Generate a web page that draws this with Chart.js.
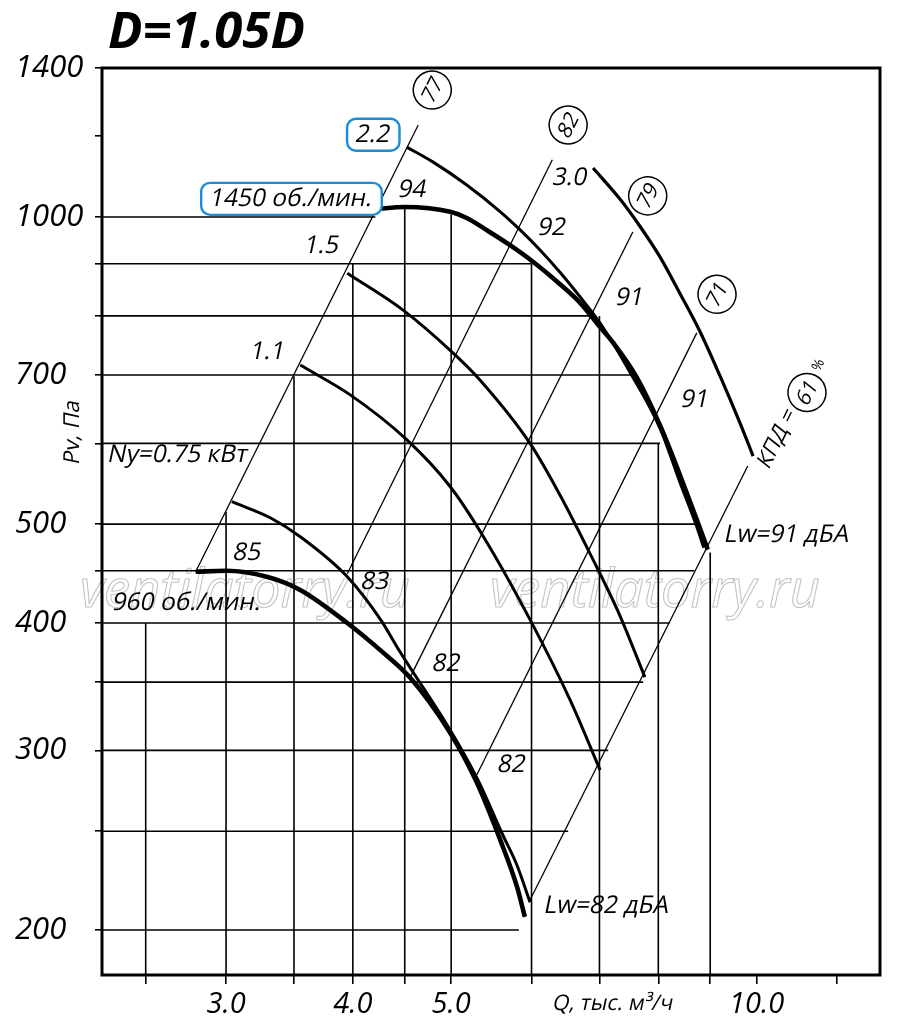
<!DOCTYPE html>
<html>
<head>
<meta charset="utf-8">
<script src="https://cdn.jsdelivr.net/npm/chart.js@4.4.1/dist/chart.umd.min.js"></script>
<style>
html,body{margin:0;padding:0;background:#fff;}
canvas{display:block;}
</style>
</head>
<body>
<canvas id="chart" width="900" height="1024"></canvas>
<script>
// axis ranges and ticks
const Q_MIN=2.264, Q_MAX=13.23, P_MIN=180.7, P_MAX=1400;
const xTickValues=[2.5,3,3.5,4,4.5,5,6,7,8,9,10,12];
const xTickLabels={3:'3.0',4:'4.0',5:'5.0',10:'10.0'};
const yTickValues=[1400,1200,1000,900,800,700,600,500,450,400,350,300,250,200];
const yTickLabels={1400:'1400',1000:'1000',700:'700',500:'500',400:'400',300:'300',200:'200'};

// grid segments: horizontal (P, Q where it stops), vertical (Q, P where it stops)
const hGridP=[1000,900,800,700,600,500,450,400,350,300,250,200];
const hGridEnd=[4.21,6.0,6.9,7.55,8.03,8.70,8.68,8.21,7.73,7.14,6.52,5.83];
const vGridQ=[2.5,3,3.5,4,4.5,5,6,7,8,9];
const vGridTop=[400,514,698,900,1020,1006,900,800,600,469];

// fan curves Pv(Q)
const q960=[2.80,3.00,3.29,3.55,3.95,4.26,4.55,4.99,5.30,5.59,5.81,5.91];
const p960=[449,450,444,431,400,376,354,312,279,245,220,206];
const q075=[3.04,3.32,3.55,3.95,4.26,4.45,4.99,5.31,5.62,5.80,5.98];
const p075=[526,507,486,444,403,375,314,281,248,232,213];
const q110=[3.55,3.98,4.52,4.99,5.38,5.98,6.55,7.01];
const p110=[716,669,605,544,486,403,336,287];
const q150=[3.95,4.48,5.02,5.34,5.98,6.40,6.85,7.33,7.76];
const p150=[881,811,736,692,600,534,468,407,354];
const q220=[4.52,4.80,5.18,5.59,5.85,6.12,6.40,6.70,7.01,7.50,8.03,8.40,8.73,8.87];
const p220=[1171,1132,1075,1012,971,928,883,835,787,705,621,550,497,474];
const q1450=[4.21,4.50,4.99,5.18,5.42,5.71,6.02,6.36,6.70,7.01,7.22,7.62,8.03,8.40,8.73,8.95];
const p1450=[1018,1023,1012,998,971,939,904,864,824,780,753,696,625,559,505,472];
const q300=[6.90,7.33,7.67,8.03,8.40,8.80,9.20,9.63,9.92];
const p300=[1117,1042,980,914,842,771,699,628,583];

// efficiency lines (КПД, %)
const effNames=['77','82','79','71','61'];
const effQ0=[2.80,3.95,4.55,5.30,5.98], effP0=[449,447,353,284,214];
const effQ1=[4.64,6.29,7.55,8.73,9.80], effP1=[1231,1138,967,770,570];
const circleQ=[4.79,6.52,7.81,9.14,11.21], circleP=[1332,1231,1049,840,673];

// text notes on the field
const noteText=['94','1.5','1.1','Ny=0.75 кВт','85','960 об./мин.','83','82','82','92','3.0','91','91','Lw=82 дБА','Lw=91 дБА'];
const noteQ=[4.58,3.73,3.30,2.69,3.15,2.746,4.21,4.95,5.74,6.29,6.55,7.50,8.70,6.18,9.30];
const noteP=[1063,937,737,584,468,418,439,365,290,976,1092,833,662,211,488];
const noteLeft=[false,false,false,false,false,false,false,false,false,false,false,false,false,true,true];
const boxText=['2.2','1450 об./мин.'];
const boxQ=[4.19,3.48], boxP=[1204,1042];

function pts(qs,ps){return qs.map((q,i)=>({x:q,y:ps[i]}));}
const datasets=[];
function addLine(qs,ps,w,smooth){
  datasets.push({data:pts(qs,ps),showLine:true,borderColor:'#000',borderWidth:w,
    pointRadius:0,fill:false,tension:0,cubicInterpolationMode:smooth?'monotone':'default'});
}
addLine(q960,p960,4.6,true);
addLine(q1450,p1450,4.6,true);
addLine(q075,p075,3,true);
addLine(q110,p110,3,true);
addLine(q150,p150,3,true);
addLine(q220,p220,3,true);
addLine(q300,p300,3.2,true);
effNames.forEach((n,i)=>addLine([effQ0[i],effQ1[i]],[effP0[i],effP1[i]],1.3,false));
hGridP.forEach((p,i)=>addLine([Q_MIN,hGridEnd[i]],[p,p],1.6,false));
vGridQ.forEach((q,i)=>addLine([q,q],[P_MIN,vGridTop[i]],1.6,false));

const FONT='"Open Sans","Noto Sans",sans-serif';
const SKEW=-0.21;

function fitFont(c,txt,style,width,base){
  c.font=style+' '+base+'px '+FONT;
  const w=c.measureText(txt).width;
  return base*width/w;
}
// upright face slanted by hand, so Cyrillic keeps its print shapes
function slanted(c,t,x,y,align){
  c.save();c.translate(x,y);c.transform(1,0,SKEW,1,0,0);
  c.textAlign=align;c.fillText(t,0,0);c.restore();
}

const decor={
  id:'decor',
  beforeDatasetsDraw(chart){
    const c=chart.ctx;
    c.save();
    c.strokeStyle='#c4c4c4';c.lineWidth=1.1;
    const s=fitFont(c,'ventilatorry.ru','italic',330,52);
    c.font='italic '+s+'px '+FONT;
    c.textBaseline='alphabetic';c.textAlign='left';
    c.strokeText('ventilatorry.ru',80,607);
    c.strokeText('ventilatorry.ru',490,607);
    c.restore();
  },
  afterDatasetsDraw(chart){
    const c=chart.ctx, a=chart.chartArea;
    const X=v=>chart.scales.x.getPixelForValue(v), Y=v=>chart.scales.y.getPixelForValue(v);
    c.save();
    // frame
    c.strokeStyle='#000';c.lineWidth=3;
    c.strokeRect(a.left,a.top,a.right-a.left,a.bottom-a.top);

    // circled efficiency values
    const ang=Math.atan2(Y(effP1[0])-Y(effP0[0]),X(effQ1[0])-X(effQ0[0]));
    c.fillStyle='#000';
    circleQ.forEach((q,i)=>{
      c.save();
      c.translate(X(q),Y(circleP[i]));c.rotate(ang);
      c.beginPath();c.arc(0,0,19,0,Math.PI*2);c.lineWidth=1.5;c.stroke();
      c.font='21px '+FONT;c.textBaseline='middle';
      slanted(c,effNames[i],0,1,'center');
      if(i===4){
        c.font='22px '+FONT;
        slanted(c,'КПД =',-23,-6,'right');
        c.font='14px '+FONT;
        c.fillText('%',24,-2);
      }
      c.restore();
    });

    // notes
    c.font='24.5px '+FONT;c.textBaseline='middle';
    noteText.forEach((t,i)=>{
      slanted(c,t,X(noteQ[i]),Y(noteP[i]),noteLeft[i]?'left':'center');
    });
    // boxed notes
    boxText.forEach((t,i)=>{
      const x=X(boxQ[i]),y=Y(boxP[i]);
      const w=c.measureText(t).width;
      c.fillStyle='#fff';
      c.beginPath();c.roundRect(x-w/2-9,y-16,w+18,32,9);c.fill();
      c.strokeStyle='#1a8cd8';c.lineWidth=2.4;c.stroke();
      c.fillStyle='#000';
      slanted(c,t,x,y,'center');
    });

    // title
    const ts=fitFont(c,'D=1.05D','italic bold',197,48);
    c.font='italic bold '+ts+'px '+FONT;c.textAlign='left';c.textBaseline='alphabetic';
    c.fillText('D=1.05D',108,48);

    // axis titles
    c.font='21.5px '+FONT;c.textBaseline='middle';
    slanted(c,'Q, тыс. м³/ч',553,1004,'left');
    c.font='22px '+FONT;
    c.save();c.translate(73,432);c.rotate(-Math.PI/2);
    slanted(c,'Pv, Па',0,0,'center');c.restore();
    c.restore();
  }
};

new Chart(document.getElementById('chart'),{
  type:'scatter',
  data:{datasets},
  options:{
    responsive:false,animation:false,devicePixelRatio:1,events:[],
    layout:{padding:{top:68,right:20,left:15,bottom:0}},
    plugins:{legend:{display:false},tooltip:{enabled:false}},
    scales:{
      x:{type:'logarithmic',min:Q_MIN,max:Q_MAX,
        afterBuildTicks:s=>{s.ticks=xTickValues.map(v=>({value:v}));},
        afterFit:s=>{s.height=49;},
        border:{display:false},
        grid:{drawOnChartArea:false,drawTicks:true,tickLength:9,color:'#000',lineWidth:1.6},
        ticks:{autoSkip:false,maxRotation:0,padding:3,color:'#000',
          font:{family:FONT,size:29,style:'italic'},
          callback:v=>xTickLabels[v]||''}},
      y:{type:'logarithmic',min:P_MIN,max:P_MAX,
        afterBuildTicks:s=>{s.ticks=yTickValues.map(v=>({value:v}));},
        afterFit:s=>{s.width=87;},
        border:{display:false},
        grid:{drawOnChartArea:false,drawTicks:true,tickLength:7,color:'#000',lineWidth:1.6},
        ticks:{autoSkip:false,padding:10,crossAlign:'far',color:'#000',
          font:{family:FONT,size:31,style:'italic'},
          callback:v=>yTickLabels[v]||''}}
    }
  },
  plugins:[decor]
});
</script>
</body>
</html>
